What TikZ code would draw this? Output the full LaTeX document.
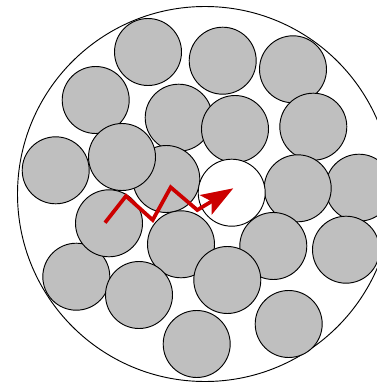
\documentclass[tikz,border=0pt]{standalone}
\usepackage{tikz}
\usetikzlibrary{arrows.meta}
\definecolor{grainGray}{RGB}{191,191,191}
\definecolor{pathRed}{RGB}{204,0,0}

\begin{document}
\begin{tikzpicture}[x=0.75pt, y=-0.75pt,
  grain/.style={draw=black, fill=grainGray, line width=0.7pt},
  pore/.style={draw=black, fill=white, line width=0.7pt}]
% 图幅与参考一致：376 x 382
\useasboundingbox (0,0) rectangle (376,382);
\def\r{33.5}
% 外圈
\draw[line width=0.7pt] (205,194) circle (187.5);
% 颗粒（按遮挡顺序绘制）
\foreach \x/\y in {148/52, 222.7/60.7, 293/69.3, 95.7/100, 178.7/117.7, 235/129,
  313.3/126.7, 55.7/170.3, 166.3/179, 122/157, 359/187.7, 297.7/188.3,
  76.3/276.7, 109/223.3, 181/244.3, 273.3/246, 227.3/280, 346/249.7,
  139/295, 288.7/324, 196.7/344}
  \draw[grain] (\x,\y) circle (\r);
% 空位
\draw[pore] (231.7,192.7) circle (\r);
% 迁移路径
\coordinate (start) at (105,222.7);
\coordinate (target) at (233.3,188.3);
\draw[pathRed, line width=2.8pt, -{Stealth[length=24pt, width=17pt, inset=5pt]}]
  (start) -- (126,196) -- (152.7,220) -- (170.7,187.3) -- (197.3,210) -- (target);
\end{tikzpicture}
\end{document}
